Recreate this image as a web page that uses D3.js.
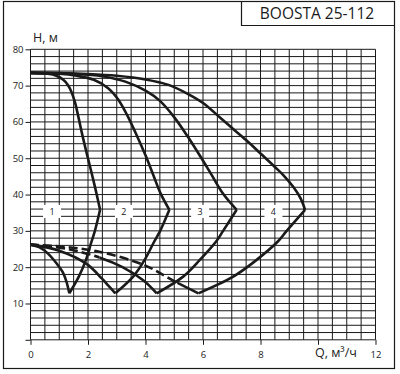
<!DOCTYPE html>
<html><head><meta charset="utf-8">
<script src="https://cdn.jsdelivr.net/npm/d3@7"></script>
<style>html,body{margin:0;padding:0;background:#fff;}svg{display:block;}</style>
</head><body>
<svg id="chart" width="400" height="374"></svg>
<script>
// ---- data ----
const title = "BOOSTA 25-112";
const yLabel = "H, м";
const xLabel = "Q, м³/ч";
const xTicks = [0, 2, 4, 6, 8, 10, 12];
const xTickLabels = ["0", "2", "4", "6", "8", "", "12"];
const yTicks = [10, 20, 30, 40, 50, 60, 70, 80];
const curveNames = ["1", "2", "3", "4"];
const labelQ = [0.75, 3.25, 5.9, 8.45];
const labelH = 35.2;
// upper branch: shut-off head to max flow point
const top1 = [[0,73.5],[0.6,73.25],[0.9,72.7],[1.14,71.6],[1.3,70.2],[1.43,68.2],[1.55,65.3],[1.66,61.6],[1.8,56.5],[1.96,51.2],[2.13,45.8],[2.28,40.8],[2.42,35.8]];
const top2 = [[0,73.5],[1.0,73.25],[1.6,72.7],[2.2,71.6],[2.7,69.3],[3.05,66.2],[3.38,61.6],[3.7,56.2],[4.0,50.8],[4.27,45.4],[4.52,40.4],[4.83,35.8]];
const top3 = [[0,73.5],[1.5,73.25],[2.5,72.6],[3.3,71.1],[4.0,68.6],[4.5,65.8],[4.97,61.6],[5.45,56.2],[5.9,50.6],[6.3,45.4],[6.7,40.2],[7.17,35.8]];
const top4 = [[0,73.5],[1,73.45],[2,73.2],[3,72.7],[4,71.7],[4.8,70.2],[5.5,67.6],[6,65.2],[6.65,60.8],[7,58.4],[7.5,55],[8,51.3],[8.5,47.6],[8.8,45.3],[9.15,42],[9.4,38.9],[9.55,35.8]];
// falling branch: max flow point to minimum
const fall1 = [[2.42,35.8],[2.24,30],[2.1,26.5],[1.93,22],[1.68,17.4],[1.35,12.8]];
const fall2 = [[4.83,35.8],[4.51,30],[4.3,27],[3.97,22],[3.57,17.4],[2.95,12.8]];
const fall3 = [[7.17,35.8],[6.7,30],[6.45,27],[5.89,22],[5.31,17.4],[4.39,12.8]];
const fall4 = [[9.55,35.8],[8.91,30],[8.62,27.2],[7.8,21.6],[7.05,17.4],[5.84,12.8]];
// return branch: minimum back to Q = 0
const back1 = [[1.35,12.8],[1.25,16],[1.13,18.5],[0.91,21],[0.6,23.8],[0.3,25.5],[0,26.2]];
const back2 = [[2.95,12.8],[2.7,15],[2.48,16.9],[1.95,20.9],[0.97,24.6],[0,26.2]];
const back3 = [[4.39,12.8],[3.92,16.4],[3.2,20],[2.42,22.6],[1.3,25],[0,26.2]];
const back4 = [[5.84,12.8],[5.08,15.8],[3.98,20.5],[2.42,24.2],[1.2,25.6],[0,26.2]];
const dashedUpTo = [0, 0, 2.4, 5.1];

// ---- drawing ----
const svg = d3.select("#chart");
const x = d3.scaleLinear().domain([0, 12]).range([30.5, 375.5]);
const y = d3.scaleLinear().domain([0, 80]).range([339.8, 49.3]);
const ink = "#1a1a1a";

// outer frame and title box
svg.append("rect").attr("x", 3.5).attr("y", 1.5).attr("width", 391).attr("height", 367)
  .attr("fill", "none").attr("stroke", ink).attr("stroke-width", 1.2);
svg.append("path").attr("d", "M241.5,1.5V25.5H394.5").attr("fill", "none").attr("stroke", ink).attr("stroke-width", 1.2);
svg.append("text").attr("x", 317).attr("y", 19).attr("text-anchor", "middle")
  .attr("font-family", "Open Sans").attr("font-size", 15.5).attr("fill", ink).text(title);

// grid
const g = svg.append("g");
g.selectAll("line.v").data(d3.range(0, 12.01, 0.5)).join("line")
  .attr("x1", d => x(d)).attr("x2", d => x(d)).attr("y1", y(80)).attr("y2", y(0))
  .attr("stroke", ink).attr("stroke-width", 1);
g.selectAll("line.h").data(d3.range(0, 80.01, 2)).join("line")
  .attr("x1", x(0)).attr("x2", x(12)).attr("y1", d => y(d)).attr("y2", d => y(d))
  .attr("stroke", ink).attr("stroke-width", 1);

// axes
const yAxis = d3.axisLeft(y).tickValues([0, ...yTicks]).tickSize(5).tickFormat(d => d === 0 ? "" : d);
const ya = svg.append("g").attr("transform", `translate(${x(0)},0)`).call(yAxis);
ya.select(".domain").remove();
ya.selectAll("line").attr("stroke", ink);
ya.selectAll("text").attr("font-family", "Open Sans").attr("font-size", 9.5).attr("fill", "#222").attr("dx", "1");

const xAxis = d3.axisBottom(x).tickValues(xTicks).tickSize(5).tickPadding(6).tickFormat((d, i) => xTickLabels[i]);
const xa = svg.append("g").attr("transform", `translate(0,${y(0)})`).call(xAxis);
xa.select(".domain").remove();
xa.selectAll("line").attr("stroke", ink);
xa.selectAll("text").attr("font-family", "Open Sans").attr("font-size", 9.5).attr("fill", "#222");

svg.append("text").attr("x", 33).attr("y", 42).attr("font-family", "Open Sans").attr("font-size", 12.5).attr("fill", "#222").text(yLabel);
svg.append("text").attr("x", 315).attr("y", 357).attr("font-family", "Open Sans").attr("font-size", 12.5).attr("fill", "#222").text(xLabel);

// curve labels with white boxes
curveNames.forEach((n, i) => {
  const cx = x(labelQ[i]), cy = y(labelH);
  svg.append("rect").attr("x", cx - 9).attr("y", cy - 7).attr("width", 18).attr("height", 13).attr("fill", "#fff");
  svg.append("text").attr("x", cx).attr("y", cy + 3.5).attr("text-anchor", "middle")
    .attr("font-family", "Open Sans").attr("font-size", 9).attr("fill", "#222").text(n);
});

// curves
const line = d3.line().x(d => x(d[0])).y(d => y(d[1])).curve(d3.curveCatmullRom.alpha(0.5));
const tops = [top1, top2, top3, top4], falls = [fall1, fall2, fall3, fall4], backs = [back1, back2, back3, back4];
const defs = svg.append("defs");
const cg = svg.append("g").attr("fill", "none").attr("stroke", ink).attr("stroke-width", 2.6).attr("stroke-linecap", "butt");
tops.forEach((t, i) => {
  cg.append("path").attr("d", line(t));
  cg.append("path").attr("d", line(falls[i]));
  const dEnd = dashedUpTo[i];
  if (dEnd > 0) {
    defs.append("clipPath").attr("id", "cd" + i).append("rect").attr("x", 0).attr("y", 0).attr("width", x(dEnd)).attr("height", 374);
    defs.append("clipPath").attr("id", "cs" + i).append("rect").attr("x", x(dEnd)).attr("y", 0).attr("width", 400).attr("height", 374);
    cg.append("path").attr("d", line(backs[i])).attr("stroke-dasharray", "9,4").attr("clip-path", `url(#cd${i})`);
    cg.append("path").attr("d", line(backs[i])).attr("clip-path", `url(#cs${i})`);
  } else {
    cg.append("path").attr("d", line(backs[i]));
  }
});
</script>
</body></html>
